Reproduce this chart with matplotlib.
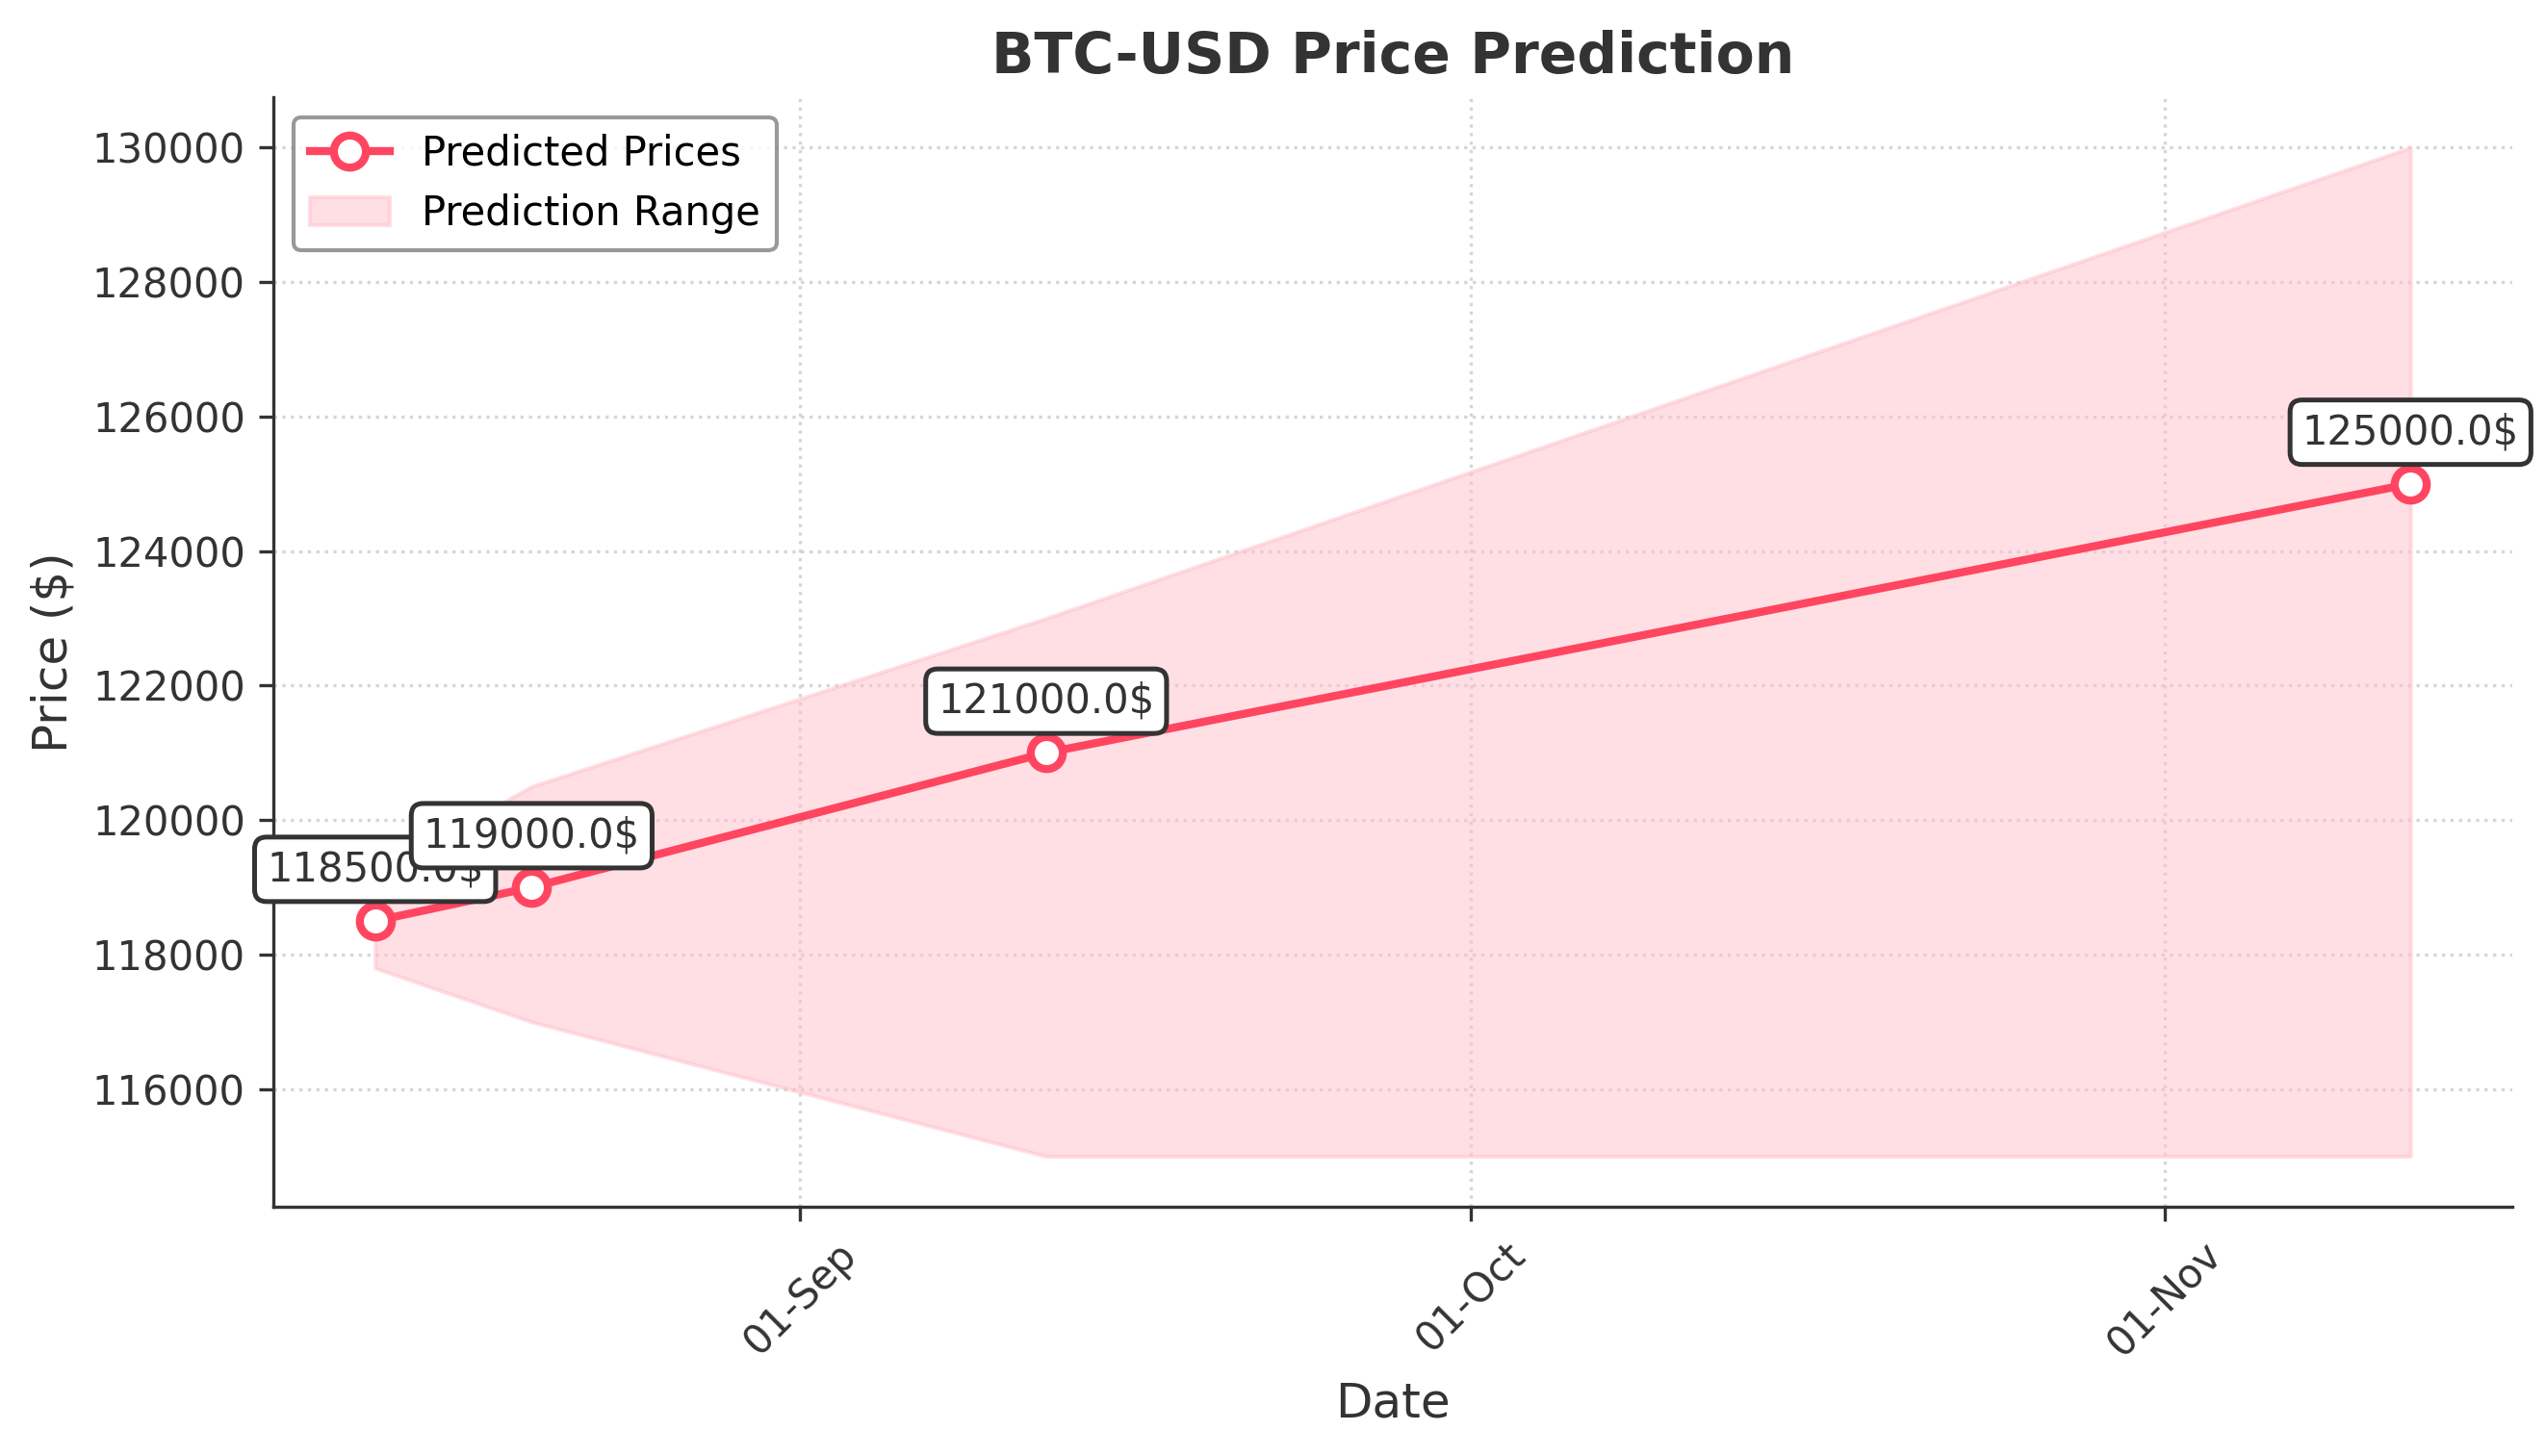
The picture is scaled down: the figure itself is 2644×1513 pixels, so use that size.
import matplotlib
matplotlib.use("Agg")
import matplotlib.pyplot as plt
import matplotlib.dates as mdates
import pandas as pd

dates = ["2025-08-13", "2025-08-20", "2025-09-12", "2025-11-12"]
predicted = [118500.0, 119000.0, 121000.0, 125000.0]
lower = [117800.0, 117000.0, 115000.0, 115000.0]
upper = [119200.0, 120500.0, 123000.0, 130000.0]

title = "BTC-USD Price Prediction"
xlabel = "Date"
ylabel = "Price ($)"

TXT = "#333333"
LINE = "#FF4560"
plt.rcParams.update({
    "font.family": ["DejaVu Sans"],
    "text.color": TXT,
    "axes.labelcolor": TXT,
    "xtick.color": TXT,
    "ytick.color": TXT,
    "axes.edgecolor": TXT,
})

x = pd.to_datetime(dates)
dpi = 300
fig = plt.figure(figsize=(2644 / dpi, 1513 / dpi), dpi=dpi)
ax = fig.add_axes([284 / 2644, 1 - 1254 / 1513, (2610 - 284) / 2644, (1254 - 101) / 1513])

ax.plot(x, predicted, color=LINE, linewidth=2, marker="o", markersize=8,
        markerfacecolor="white", markeredgecolor=LINE, markeredgewidth=2,
        label="Predicted Prices", zorder=3)
ax.fill_between(x, lower, upper, color="pink", alpha=0.5, label="Prediction Range", zorder=1)

for d, p in zip(x, predicted):
    ax.annotate(f"{p}$", (d, p), textcoords="offset points", xytext=(0, 10),
                ha="center", fontsize=10, color=TXT, zorder=4,
                bbox=dict(boxstyle="round,pad=0.3", fc="white", ec=TXT, lw=1.2))

ax.xaxis.set_major_locator(mdates.MonthLocator())
ax.xaxis.set_major_formatter(mdates.DateFormatter("%d-%b"))
plt.setp(ax.get_xticklabels(), rotation=45)
ax.tick_params(labelsize=10)

ax.set_title(title, fontsize=14, fontweight="bold", color=TXT)
ax.set_xlabel(xlabel, fontsize=12)
ax.set_ylabel(ylabel, fontsize=12)

ax.grid(True, linestyle=":", color="#bbbbbb", linewidth=0.8, alpha=0.6)
ax.set_axisbelow(True)
ax.spines["top"].set_visible(False)
ax.spines["right"].set_visible(False)

leg = ax.legend(loc="upper left", fontsize=10, frameon=True, edgecolor="gray")
for t in leg.get_texts():
    t.set_color("black")

fig.savefig("out.png", dpi=dpi)
